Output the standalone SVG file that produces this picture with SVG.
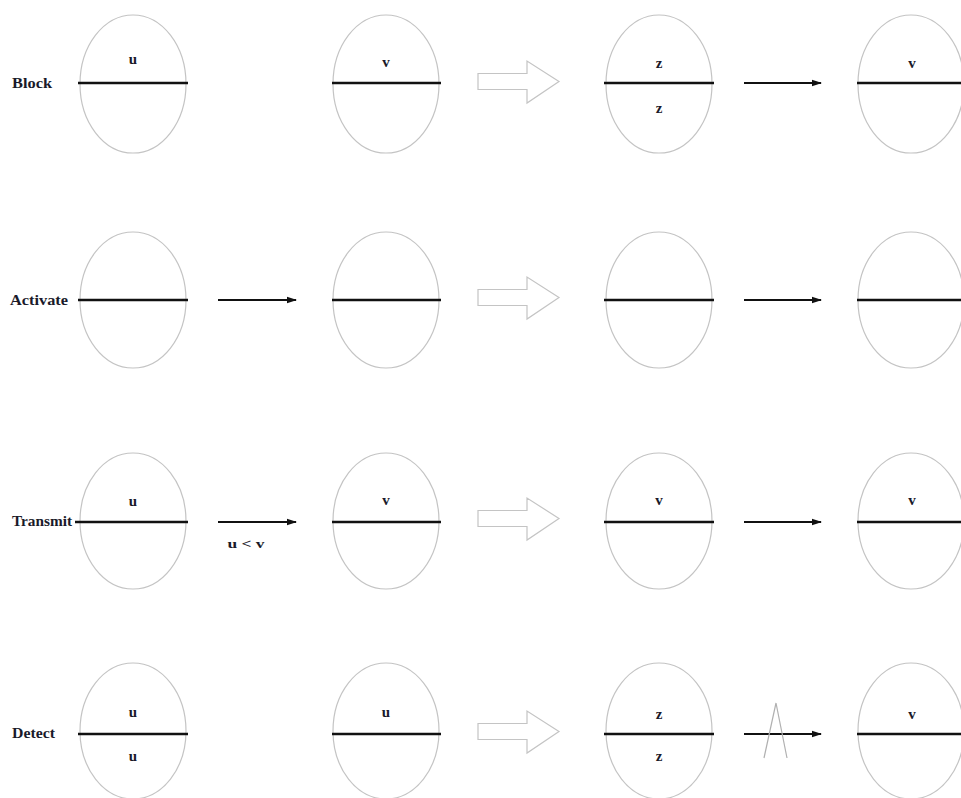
<svg xmlns="http://www.w3.org/2000/svg" width="961" height="798" viewBox="0 0 961 798">
<style>
.ell{fill:none;stroke:#c4c4c4;stroke-width:1.2}
.bar{stroke:#111;stroke-width:2.6}
.lbl{font-family:"Liberation Serif",serif;font-size:14px;font-weight:bold;fill:#1a1a2a}
.var{font-family:"Liberation Serif",serif;font-size:15px;font-weight:bold;fill:#1a1a2a;text-anchor:middle}
.big{fill:#fff;stroke:#c4c4c4;stroke-width:1.2}
.arr{stroke:#111;stroke-width:2;fill:none;marker-end:url(#ah)}
.thin{stroke:#b0b0b0;stroke-width:1.2;fill:none}
</style>
<defs>
<marker id="ah" markerWidth="10" markerHeight="8" refX="9" refY="4" orient="auto" markerUnits="userSpaceOnUse">
<path d="M0,0.8 L10,4 L0,7.2 Z" fill="#111"/>
</marker>
<g id="bigarrow"><path class="big" d="M478,-10.5 L527,-10.5 L527,-23 L559,-2.5 L527,19 L527,5.5 L478,5.5 Z"/></g>
</defs>
<rect width="961" height="798" fill="#fff"/>

<g id="labels">
<text class="lbl" x="12" y="88" textLength="40" lengthAdjust="spacingAndGlyphs">Block</text>
<text class="lbl" x="10" y="305" textLength="58" lengthAdjust="spacingAndGlyphs">Activate</text>
<text class="lbl" x="12" y="526" textLength="60" lengthAdjust="spacingAndGlyphs">Transmit</text>
<text class="lbl" x="12" y="738" textLength="43" lengthAdjust="spacingAndGlyphs">Detect</text>
</g>

<!-- Row 1: Block -->
<g id="r1c1"><ellipse class="ell" cx="133" cy="84" rx="53" ry="69"/><line class="bar" x1="78" y1="83" x2="188" y2="83"/><text class="var" x="133" y="64">u</text></g>
<g id="r1c2"><ellipse class="ell" cx="386" cy="84" rx="53" ry="69"/><line class="bar" x1="332" y1="83" x2="441" y2="83"/><text class="var" x="386" y="67">v</text></g>
<g id="r1c3"><ellipse class="ell" cx="659" cy="84" rx="53" ry="69"/><line class="bar" x1="604" y1="83" x2="714" y2="83"/><text class="var" x="659" y="68">z</text><text class="var" x="659" y="113">z</text></g>
<g id="r1c4"><ellipse class="ell" cx="911" cy="84" rx="53" ry="69"/><line class="bar" x1="857" y1="83" x2="961" y2="83"/><text class="var" x="912" y="68">v</text></g>

<!-- Row 2: Activate -->
<g id="r2c1"><ellipse class="ell" cx="133" cy="300" rx="53" ry="68"/><line class="bar" x1="78" y1="300" x2="188" y2="300"/></g>
<g id="r2c2"><ellipse class="ell" cx="386" cy="300" rx="53" ry="68"/><line class="bar" x1="332" y1="300" x2="441" y2="300"/></g>
<g id="r2c3"><ellipse class="ell" cx="659" cy="300" rx="53" ry="68"/><line class="bar" x1="604" y1="300" x2="714" y2="300"/></g>
<g id="r2c4"><ellipse class="ell" cx="911" cy="300" rx="53" ry="68"/><line class="bar" x1="857" y1="300" x2="961" y2="300"/></g>

<!-- Row 3: Transmit -->
<g id="r3c1"><ellipse class="ell" cx="133" cy="521" rx="53" ry="68"/><line class="bar" x1="75" y1="522" x2="188" y2="522"/><text class="var" x="133" y="506">u</text></g>
<g id="r3c2"><ellipse class="ell" cx="386" cy="521" rx="53" ry="68"/><line class="bar" x1="332" y1="522" x2="441" y2="522"/><text class="var" x="386" y="505">v</text></g>
<g id="r3c3"><ellipse class="ell" cx="659" cy="521" rx="53" ry="68"/><line class="bar" x1="604" y1="522" x2="714" y2="522"/><text class="var" x="659" y="505">v</text></g>
<g id="r3c4"><ellipse class="ell" cx="911" cy="521" rx="53" ry="68"/><line class="bar" x1="857" y1="522" x2="961" y2="522"/><text class="var" x="912" y="505">v</text></g>

<!-- Row 4: Detect -->
<g id="r4c1"><ellipse class="ell" cx="133" cy="731" rx="53" ry="68"/><line class="bar" x1="78" y1="734" x2="188" y2="734"/><text class="var" x="133" y="717">u</text><text class="var" x="133" y="761">u</text></g>
<g id="r4c2"><ellipse class="ell" cx="386" cy="731" rx="53" ry="68"/><line class="bar" x1="332" y1="734" x2="441" y2="734"/><text class="var" x="386" y="717">u</text></g>
<g id="r4c3"><ellipse class="ell" cx="659" cy="731" rx="53" ry="68"/><line class="bar" x1="604" y1="734" x2="714" y2="734"/><text class="var" x="659" y="719">z</text><text class="var" x="659" y="761">z</text></g>
<g id="r4c4"><ellipse class="ell" cx="911" cy="731" rx="53" ry="68"/><line class="bar" x1="857" y1="734" x2="961" y2="734"/><text class="var" x="912" y="719">v</text></g>

<g id="connectors">
<use href="#bigarrow" transform="translate(0,84)"/>
<use href="#bigarrow" transform="translate(0,300)"/>
<use href="#bigarrow" transform="translate(0,521)"/>
<use href="#bigarrow" transform="translate(0,734)"/>
<line class="arr" x1="744" y1="83" x2="821" y2="83"/>
<line class="arr" x1="218" y1="300" x2="296" y2="300"/>
<line class="arr" x1="744" y1="300" x2="821" y2="300"/>
<line class="arr" x1="218" y1="522" x2="296" y2="522"/>
<text class="var" x="246" y="548" style="font-size:13px" textLength="37" lengthAdjust="spacingAndGlyphs">u &lt; v</text>
<line class="arr" x1="744" y1="522" x2="821" y2="522"/>
<line class="arr" x1="744" y1="734" x2="821" y2="734"/>
<path class="thin" d="M764,758 L776,703 L787,758"/>
</g>
</svg>
